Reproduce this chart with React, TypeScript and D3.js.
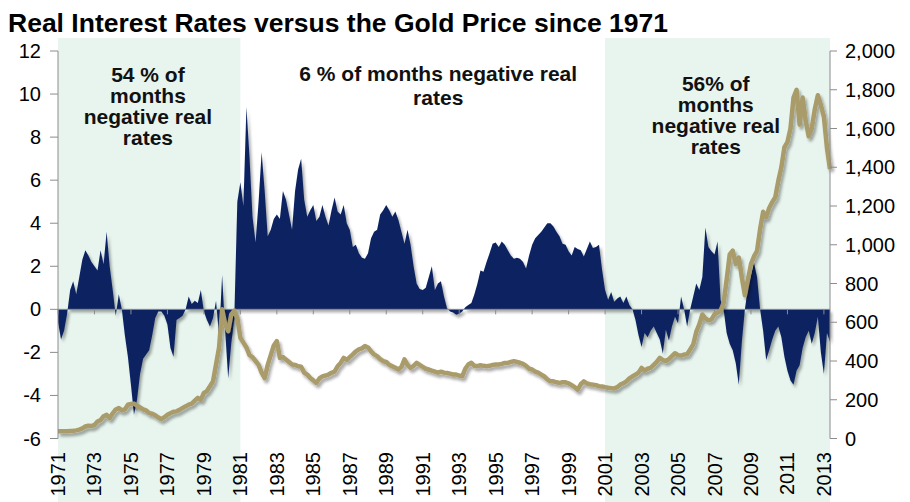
import React from "react";
import * as d3 from "d3";

// Bimonthly observations starting Jan 1971 (step = 1/6 year)
const START_YEAR = 1971;
const STEP = 1 / 6;

// Real interest rate, % (left axis)
const realRates: number[] = [
  -0.6, -1.4, -1.0, -0.2, 0.9, 1.3, // 1971
  0.7, 1.5, 2.3, 2.75, 2.5, 2.2, // 1972
  2.0, 1.8, 2.75, 2.1, 3.6, 2.0, // 1973
  0.9, -0.3, 0.7, 0.0, -1.2, -2.2, // 1974
  -3.5, -4.9, -4.2, -3.0, -2.3, -2.1, // 1975
  -1.9, -1.2, -0.4, -0.1, -0.1, -0.3, // 1976
  -0.7, -1.8, -2.2, -0.5, -0.4, -0.3, // 1977
  0.0, 0.6, 0.25, 0.4, 0.3, 0.9, // 1978
  -0.1, -0.5, -0.8, -0.4, 0.4, -1.3, // 1979
  1.6, -1.0, -3.2, -1.6, -0.4, 5.0, // 1980
  5.9, 4.8, 9.4, 7.1, 4.3, 3.1, // 1981
  5.0, 7.3, 5.5, 3.4, 3.7, 4.2, // 1982
  4.4, 4.2, 5.5, 5.1, 4.4, 3.7, // 1983
  5.5, 6.5, 7.0, 5.1, 4.3, 4.6, // 1984
  4.85, 4.1, 4.3, 4.85, 4.3, 3.9, // 1985
  4.6, 5.2, 4.55, 4.4, 4.85, 4.0, // 1986
  3.7, 2.9, 3.0, 2.6, 2.4, 2.35, // 1987
  2.6, 3.3, 3.6, 3.7, 4.4, 4.6, // 1988
  4.85, 4.6, 4.3, 4.55, 4.15, 3.6, // 1989
  3.05, 3.7, 3.0, 2.0, 1.2, 0.95, // 1990
  0.9, 1.0, 1.5, 2.0, 0.9, 1.2, // 1991
  1.3, 0.6, 0.05, -0.1, -0.15, -0.25, // 1992
  -0.2, -0.1, 0.1, 0.2, 0.3, 0.7, // 1993
  1.2, 1.8, 1.75, 2.2, 2.6, 3.05, // 1994
  3.1, 2.9, 3.15, 3.0, 2.75, 2.5, // 1995
  2.35, 2.4, 2.35, 2.2, 1.9, 2.5, // 1996
  3.0, 3.3, 3.45, 3.6, 3.8, 4.0, // 1997
  4.0, 3.85, 3.6, 3.4, 3.05, 3.0, // 1998
  2.7, 2.5, 2.9, 2.8, 2.75, 2.45, // 1999
  2.8, 3.15, 2.85, 2.9, 3.0, 1.85, // 2000
  0.9, 0.45, 0.8, 0.35, 0.5, 0.6, // 2001
  0.3, 0.6, 0.2, 0.0, -0.5, -1.2, // 2002
  -1.75, -1.1, -1.3, -1.0, -0.8, -1.1, // 2003
  -1.4, -2.05, -0.95, -1.45, -0.8, -0.35, // 2004
  -0.65, 0.6, 0.0, -0.8, 0.0, 0.6, // 2005
  1.2, 0.9, 1.5, 3.8, 2.9, 2.7, // 2006
  2.55, 3.15, 0.45, 0.0, -1.1, -1.6, // 2007
  -1.9, -2.5, -3.5, -1.5, 0.0, 1.0, // 2008
  1.6, 2.15, 1.5, 0.0, -1.0, -2.35, // 2009
  -1.9, -1.4, -1.0, -0.8, -1.3, -2.2, // 2010
  -2.85, -3.3, -3.5, -2.85, -2.6, -1.8, // 2011
  -1.3, -1.0, -1.6, -1.1, -0.35, -2.0, // 2012
  -3.0, -1.1, -1.5, // 2013
];

// Gold price, USD/oz (right axis)
const goldPrice: number[] = [
  37, 37, 38, 38, 39, 40, // 1971
  42, 46, 52, 62, 66, 64, // 1972
  70, 88, 95, 115, 122, 105, // 1973
  130, 150, 157, 145, 150, 174, // 1974
  178, 180, 170, 160, 150, 145, // 1975
  131, 128, 120, 108, 100, 110, // 1976
  122, 130, 138, 140, 148, 158, // 1977
  166, 175, 180, 195, 210, 200, // 1978
  235, 245, 270, 295, 382, 470, // 1979
  667, 590, 554, 640, 660, 623, // 1980
  520, 495, 470, 430, 420, 400, // 1981
  380, 340, 312, 380, 430, 480, // 1982
  503, 416, 420, 408, 395, 382, // 1983
  380, 373, 370, 340, 330, 312, // 1984
  300, 287, 310, 321, 325, 330, // 1985
  339, 345, 373, 390, 416, 405, // 1986
  420, 434, 450, 460, 465, 477, // 1987
  470, 450, 434, 425, 410, 399, // 1988
  395, 380, 373, 365, 356, 370, // 1989
  408, 380, 365, 375, 391, 380, // 1990
  370, 360, 356, 350, 345, 340, // 1991
  345, 340, 338, 335, 330, 330, // 1992
  325, 321, 360, 382, 391, 375, // 1993
  373, 378, 375, 373, 375, 380, // 1994
  382, 382, 385, 390, 390, 395, // 1995
  399, 395, 391, 385, 375, 360, // 1996
  356, 345, 340, 330, 320, 305, // 1997
  295, 295, 290, 287, 290, 290, // 1998
  285, 275, 265, 252, 280, 295, // 1999
  285, 280, 278, 275, 270, 269, // 2000
  265, 262, 260, 258, 265, 278, // 2001
  285, 295, 310, 320, 330, 340, // 2002
  364, 350, 360, 365, 380, 395, // 2003
  416, 405, 400, 410, 425, 440, // 2004
  430, 428, 433, 435, 460, 485, // 2005
  550, 589, 640, 620, 610, 615, // 2006
  641, 650, 660, 700, 820, 950, // 2007
  969, 900, 934, 830, 740, 820, // 2008
  900, 940, 969, 1080, 1170, 1141, // 2009
  1190, 1220, 1245, 1330, 1400, 1504, // 2010
  1530, 1600, 1760, 1800, 1620, 1760, // 2011
  1640, 1560, 1600, 1700, 1772, 1720, // 2012
  1660, 1500, 1390, // 2013
];

const yearLabels: number[] = d3.range(1971, 2014, 2);
const leftTicks: number[] = d3.range(-6, 13, 2);
const rightTicks: number[] = d3.range(0, 2001, 200);
const shadedPeriods: [number, number][] = [
  [1971, 1981],
  [2001, 2013.333],
];

const title = "Real Interest Rates versus the Gold Price since 1971";
const notes = [
  { year: 1975.93, lines: ["54 % of", "months", "negative real", "rates"], y0: 82, dy: 21 },
  { year: 1991.85, lines: ["6 %  of months negative real", "rates"], y0: 81, dy: 24 },
  { year: 2007.07, lines: ["56% of", "months", "negative real", "rates"], y0: 91, dy: 21 },
];

const W = 910;
const H = 502;
const FONT = "'Liberation Sans', Arial, Helvetica, sans-serif";

export default function App() {
  const endYear = START_YEAR + (realRates.length - 1) * STEP;
  const x = d3.scaleLinear().domain([START_YEAR, endYear]).range([58, 830]);
  const yL = d3.scaleLinear().domain([-6, 12]).range([438.5, 51]);
  const yR = d3.scaleLinear().domain([0, 2000]).range([438.5, 51]);

  const rateData = realRates.map((v, i) => ({ t: START_YEAR + i * STEP, v }));
  const goldData = goldPrice.map((v, i) => ({ t: START_YEAR + i * STEP, v }));

  const area = d3
    .area<{ t: number; v: number }>()
    .x((d) => x(d.t))
    .y0(yL(0))
    .y1((d) => yL(d.v));
  const line = d3
    .line<{ t: number; v: number }>()
    .x((d) => x(d.t))
    .y((d) => yR(d.v));

  const fmt = d3.format(",");
  const axisColor = "#8c8c8c";

  return (
    <svg
      width={W}
      height={H}
      style={{ position: "absolute", left: 0, top: 0, background: "#fff" }}
      fontFamily={FONT}
    >
      <defs>
        <filter id="shadow" x="-5%" y="-5%" width="110%" height="110%">
          <feGaussianBlur in="SourceAlpha" stdDeviation="1.6" />
          <feOffset dx="2" dy="2.5" result="off" />
          <feComponentTransfer>
            <feFuncA type="linear" slope="0.35" />
          </feComponentTransfer>
          <feMerge>
            <feMergeNode />
            <feMergeNode in="SourceGraphic" />
          </feMerge>
        </filter>
      </defs>
      <rect x={0} y={0} width={W} height={H} fill="#fff" />
      {shadedPeriods.map(([a, b], i) => (
        <rect key={i} x={x(a)} y={38} width={x(b) - x(a)} height={H - 38} fill="#e8f5ee" />
      ))}

      <text x={8} y={32} fontSize={25} fontWeight="bold" fill="#000" textLength={660} lengthAdjust="spacingAndGlyphs">
        {title}
      </text>

      {/* real rates area */}
      <path d={area(rateData) || ""} fill="#0b2461" filter="url(#shadow)" />

      {/* zero axis line */}
      <line x1={x.range()[0]} x2={x.range()[1]} y1={yL(0)} y2={yL(0)} stroke={axisColor} strokeWidth={1} />
      {yearLabels.map((yr) => (
        <line key={yr} x1={x(yr)} x2={x(yr)} y1={yL(0)} y2={yL(0) + 5} stroke={axisColor} strokeWidth={1} />
      ))}

      {/* gold line */}
      <path
        d={line(goldData) || ""}
        fill="none"
        stroke="#a99b6b"
        strokeWidth={4.5}
        strokeLinejoin="round"
        filter="url(#shadow)"
      />

      {/* left axis */}
      <line x1={58} x2={58} y1={yL(12)} y2={yL(-6)} stroke={axisColor} />
      {leftTicks.map((t) => (
        <g key={t}>
          <line x1={50} x2={58} y1={yL(t)} y2={yL(t)} stroke={axisColor} />
          <text x={41} y={yL(t)} dy="0.35em" textAnchor="end" fontSize={20} fill="#000">
            {t}
          </text>
        </g>
      ))}

      {/* right axis */}
      <line x1={830} x2={830} y1={yR(2000)} y2={yR(0)} stroke={axisColor} />
      {rightTicks.map((t) => (
        <g key={t}>
          <line x1={830} x2={837} y1={yR(t)} y2={yR(t)} stroke={axisColor} />
          <text x={845} y={yR(t)} dy="0.35em" textAnchor="start" fontSize={20} fill="#000">
            {fmt(t)}
          </text>
        </g>
      ))}

      {/* x labels */}
      {yearLabels.map((yr) => (
        <text
          key={yr}
          transform={`translate(${x(yr)},452) rotate(-90)`}
          textAnchor="end"
          dy="0.35em"
          fontSize={20}
          fill="#000"
        >
          {yr}
        </text>
      ))}

      {/* annotations */}
      {notes.map((n, i) => (
        <text key={i} textAnchor="middle" fontSize={21} fontWeight="bold" fill="#111">
          {n.lines.map((l, j) => (
            <tspan key={j} x={x(n.year)} y={n.y0 + j * n.dy}>
              {l}
            </tspan>
          ))}
        </text>
      ))}
    </svg>
  );
}
